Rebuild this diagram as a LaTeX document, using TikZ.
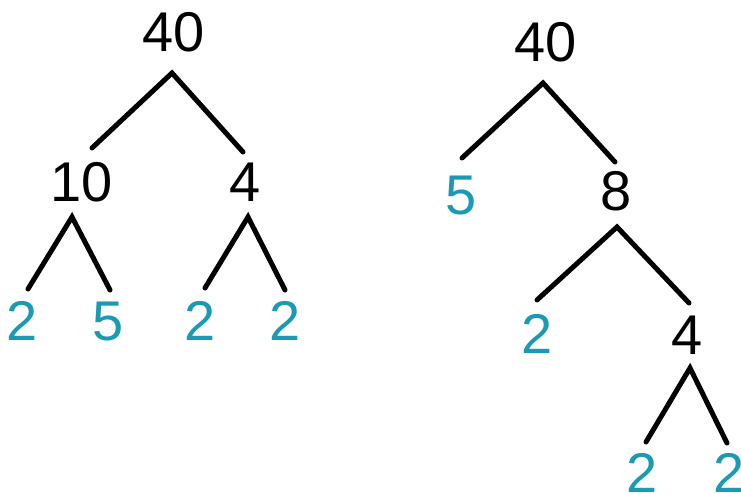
\documentclass[tikz,border=0pt]{standalone}
\usepackage{fontspec}
\setmainfont{Liberation Sans}
\definecolor{leaf}{HTML}{1B9AB3}
\tikzset{
  num/.style={anchor=base,inner sep=0pt,font=\fontsize{56}{56}\selectfont,text=black},
  leafnum/.style={num,text=leaf},
  branch/.style={draw=black,line width=5pt,line cap=round}
}
\begin{document}
\begin{tikzpicture}[x=1pt,y=-1pt]
\useasboundingbox (0,0) rectangle (741,494);
% left tree
\node[num] (L40) at (174,52) {40};
\node[num] (L10) at (82,202) {10};
\node[num] (L4) at (245,202) {4};
\node[leafnum] (La) at (22,340) {2};
\node[leafnum] (Lb) at (108,340) {5};
\node[leafnum] (Lc) at (200,340) {2};
\node[leafnum] (Ld) at (285,340) {2};
\coordinate (L40t) at (172,73);
\coordinate (L40l) at (92,148);
\coordinate (L40r) at (243,152);
\coordinate (L10t) at (72,217);
\coordinate (L10l) at (28,289);
\coordinate (L10r) at (110,290);
\coordinate (L4t) at (248,217);
\coordinate (L4l) at (205,288);
\coordinate (L4r) at (285,290);
\draw[branch] (L40l) -- (L40t) -- (L40r);
\draw[branch] (L10l) -- (L10t) -- (L10r);
\draw[branch] (L4l) -- (L4t) -- (L4r);
% right tree
\node[num] (R40) at (546,62) {40};
\node[leafnum] (R5) at (461,215) {5};
\node[num] (R8) at (616,211) {8};
\node[leafnum] (R2) at (537,353) {2};
\node[num] (R4) at (687,354) {4};
\node[leafnum] (R2a) at (642,492) {2};
\node[leafnum] (R2b) at (729,492) {2};
\coordinate (R40t) at (543,83);
\coordinate (R40l) at (462,158);
\coordinate (R40r) at (615,162);
\coordinate (R8t) at (617,227);
\coordinate (R8l) at (537,300);
\coordinate (R8r) at (689,303);
\coordinate (R4t) at (690,368);
\coordinate (R4l) at (646,442);
\coordinate (R4r) at (727,443);
\draw[branch] (R40l) -- (R40t) -- (R40r);
\draw[branch] (R8l) -- (R8t) -- (R8r);
\draw[branch] (R4l) -- (R4t) -- (R4r);
\end{tikzpicture}
\end{document}
